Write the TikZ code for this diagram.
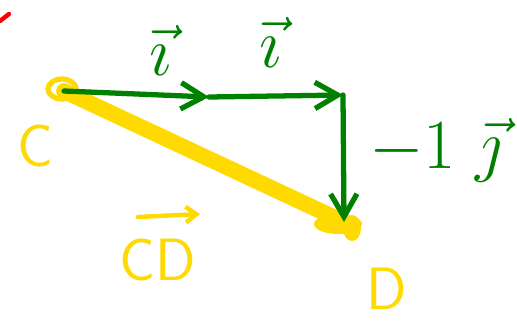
\RequirePackage{fix-cm}
\documentclass[tikz,border=0pt]{standalone}
\usetikzlibrary{arrows.meta}
\definecolor{pengreen}{RGB}{0,128,0}
\definecolor{penyellow}{RGB}{255,218,0}
\definecolor{penred}{RGB}{255,0,0}
\begin{document}
\begin{tikzpicture}[x=0.02cm,y=-0.02cm,
  gvec/.style={draw=pengreen,line width=3pt,line cap=round,-{Straight Barb[length=13pt,width=15pt,line width=3pt]}},
  glabel/.style={text=pengreen,font=\fontsize{40}{42}\selectfont},
  ylabel/.style={text=penyellow,font=\fontsize{34}{36}\selectfont\sffamily},
  pt/.style={inner sep=0pt,minimum size=0pt}]
\useasboundingbox (0,0) rectangle (517,321);
% points
\coordinate (C) at (64,91);
\coordinate (A) at (209,97);
\coordinate (B) at (343,95);
\coordinate (D) at (344,222);
% yellow vector CD
\draw[penyellow,line width=3pt] (C) ++(-2,-2) ellipse (14 and 10);
\draw[penyellow,line width=9pt,line cap=round] (C) -- (D);
\fill[penyellow] (D) ++(-6,2) ellipse (24 and 10);
\fill[penyellow] (D) ++(8,6) ellipse (9 and 13);
% green vectors
\draw[gvec] (C) -- (A);
\draw[gvec] (A) -- (B);
\draw[gvec] (B) -- (D);
% red mark
\draw[penred,line width=2.5pt,line cap=round] (0,21) -- (9,14);
% labels
\node[glabel] (li1) at (160,50) {$\vec{\imath}$};
\node[glabel] (li2) at (270,42) {$\vec{\imath}$};
\node[glabel,anchor=west] (lj) at (363,150) {$-1\;\vec{\jmath}$};
\node[ylabel] (lC) at (35,146) {C};
\node[ylabel] (lCD) at (158,260) {CD};
\coordinate (cda) at (138,217);
\coordinate (cdb) at (200,214);
\draw[penyellow,line width=2.5pt,line cap=round,-{Straight Barb[length=6pt,width=9pt,line width=2.5pt]}] (cda) -- (cdb);
\node[ylabel] (lD) at (387,289) {D};
\end{tikzpicture}
\end{document}
